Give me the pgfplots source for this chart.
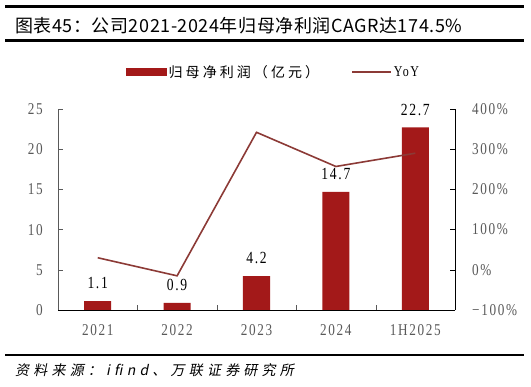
\documentclass[border=0pt]{standalone}
\usepackage{fontspec}
\usepackage{pgfplots}
\pgfplotsset{compat=1.18}
\setmainfont{Liberation Serif}
\newfontfamily\numfont{Liberation Serif}[FakeStretch=0.8,LetterSpace=10]
\newfontfamily\cjk{Noto Sans CJK SC}[LetterSpace=3]
\newfontfamily\cjklg{Noto Sans CJK SC}[LetterSpace=22]
\newfontfamily\cjksl{Noto Sans CJK SC}[FakeSlant=0.2,LetterSpace=30]
\definecolor{barc}{HTML}{A31919}
\definecolor{linec}{HTML}{8C3A36}
\definecolor{tickc}{HTML}{595959}
\begin{document}
\begin{tikzpicture}
\useasboundingbox (0bp,0bp) rectangle (531bp,387bp);

\begin{axis}[at={(58bp,77bp)}, anchor=south west, scale only axis,
  width=397bp, height=201bp,
  xmin=-0.5, xmax=4.5, ymin=0, ymax=25, ytick={0,5,...,25},
  xtick={0,1,2,3,4}, xticklabels={2021,2022,2023,2024,1H2025},
  minor xtick={0.5,1.5,2.5,3.5},
  axis x line*=bottom, axis y line*=left, axis line style={-},
  x axis line style={black}, y axis line style={tickc},
  major x tick style={draw=none},
  major tick length=5bp, minor tick length=5bp,
  tick style={tickc}, tick align=inside,
  /pgf/number format/assume math mode=true,
  ticklabel style={font=\numfont\fontsize{16.5bp}{18bp}\selectfont, text=tickc, inner sep=0},
  xticklabel style={yshift=-14.5bp},
  yticklabel style={xshift=-15bp},
  clip=false,
]
\addplot[ybar, bar width=27bp, fill=barc, draw=none,
  nodes near coords,
  nodes near coords style={font=\numfont\fontsize{17bp}{19bp}\selectfont, text=black, inner sep=0, yshift=12bp,
    /pgf/number format/fixed, /pgf/number format/precision=1, /pgf/number format/fixed zerofill}]
  coordinates {(0,1.1) (1,0.9) (2,4.2) (3,14.7) (4,22.7)};
\end{axis}

\begin{axis}[at={(58bp,77bp)}, anchor=south west, scale only axis,
  width=397bp, height=201bp,
  xmin=-0.5, xmax=4.5, ymin=-100, ymax=400,
  ytick={-100,0,100,200,300,400},
  yticklabels={−100\%,0\%,100\%,200\%,300\%,400\%},
  axis y line*=right, axis x line=none, axis line style={-,black},
  tick align=inside, major tick length=5bp, ytick style={black},
  yticklabel style={font=\numfont\fontsize{16.5bp}{18bp}\selectfont, text=tickc, inner sep=0, xshift=17bp},
  legend style={at={(0.543,1.184)}, anchor=center, draw=none, fill=none,
    legend columns=2, font=\cjklg\fontsize{14bp}{16bp}\selectfont,
    /tikz/every even column/.append style={column sep=30bp}},
  clip=false,
]
\addlegendimage{legend image code/.code={\fill[barc] (0bp,-3.5bp) rectangle (40bp,3.5bp);}}
\addlegendentry{归母净利润（亿元）}
\addplot[linec, line width=1.6bp, mark=none,
  legend image code/.code={\draw[linec,line width=1.6bp] (0bp,0bp) -- (39bp,0bp);}]
  coordinates {(0,30) (1,-15) (2,342) (3,257) (4,290)};
\addlegendentry{{\numfont\fontsize{15bp}{17bp}\selectfont YoY}}
\end{axis}

\fill[black] (5bp,379bp) rectangle (524bp,382bp);
\fill[black] (5bp,344.5bp) rectangle (524bp,347.5bp);
\fill[black] (5bp,30.7bp) rectangle (524bp,33.3bp);
\node[anchor=west,inner sep=0] at (15bp,361bp) {\cjk\fontsize{18bp}{20bp}\selectfont 图表45：公司2021-2024年归母净利润CAGR达174.5\%};
\node[anchor=west,inner sep=0] at (15bp,17bp) {\cjksl\fontsize{14bp}{16bp}\selectfont 资料来源：ifind、万联证券研究所};
\end{tikzpicture}
\end{document}
